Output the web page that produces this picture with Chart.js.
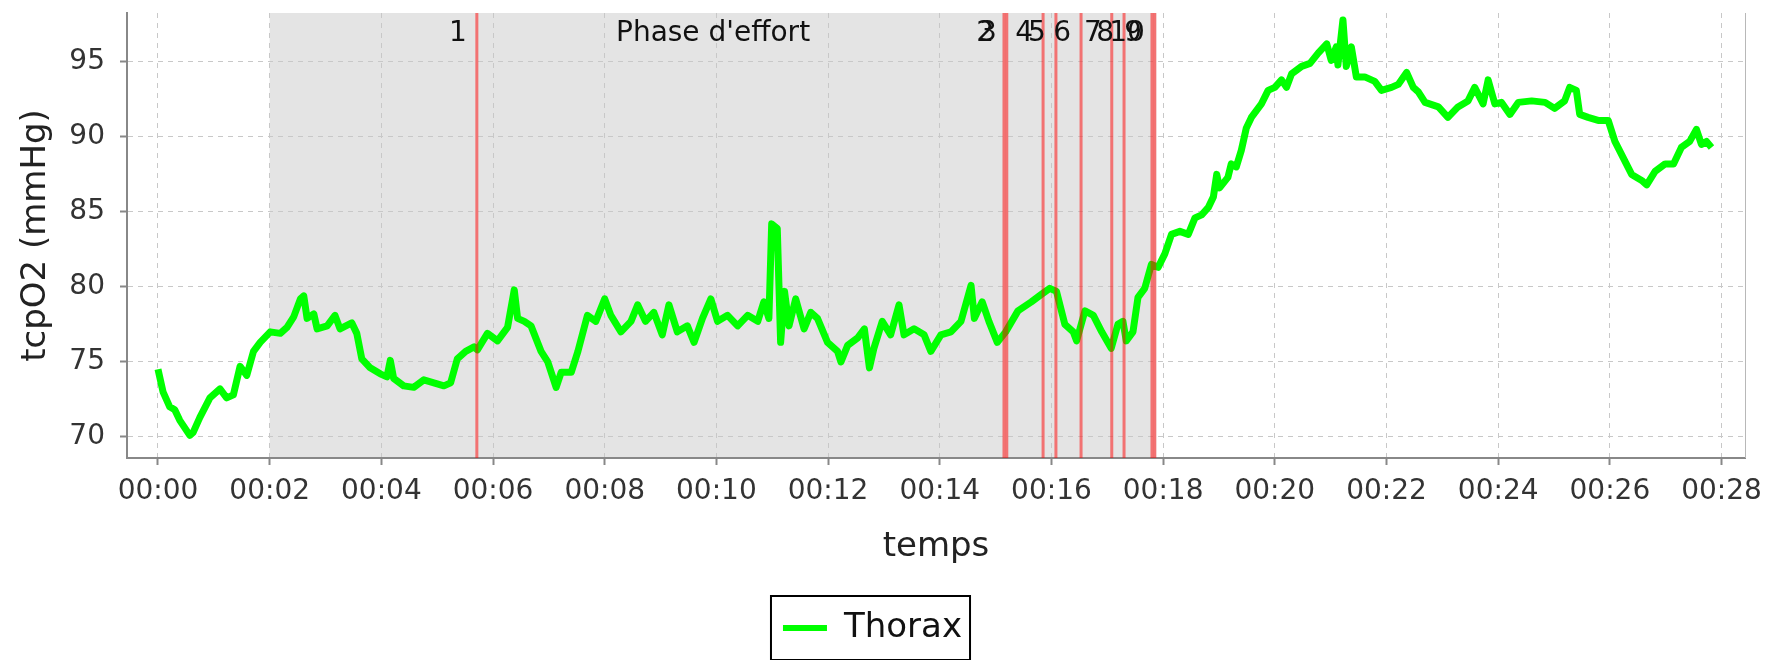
<!DOCTYPE html>
<html><head><meta charset="utf-8">
<script src="https://cdn.jsdelivr.net/npm/chart.js@4/dist/chart.umd.min.js"></script>
<style>html,body{margin:0;padding:0;background:#fff}#wrap{width:1766px;height:660px}</style>
</head><body><div id="wrap"><canvas id="c" width="1766" height="660"></canvas></div>
<script>
// time in minutes
const times = [
0.00,0.09,0.21,0.30,0.39,0.57,0.63,0.75,0.93,1.11,1.23,1.35,1.47,1.59,1.71,1.83,
2.01,2.19,2.31,2.43,2.55,2.61,2.67,2.79,2.85,3.03,3.17,3.26,3.47,3.56,3.65,3.80,3.98,
4.10,4.16,4.22,4.40,4.58,4.76,4.94,5.12,5.24,5.36,5.51,5.66,5.72,5.90,6.08,6.26,6.38,
6.44,6.56,6.68,6.86,6.98,7.13,7.22,7.40,7.52,7.69,7.84,8.00,8.11,8.29,8.47,8.59,8.73,
8.88,9.03,9.15,9.30,9.48,9.60,9.75,9.90,10.02,10.20,10.38,10.56,10.74,10.85,10.94,10.99,
11.09,11.15,11.22,11.30,11.42,11.57,11.69,11.81,11.99,12.17,12.23,12.35,12.53,12.65,12.74,
12.82,12.97,13.12,13.27,13.36,13.54,13.72,13.84,14.02,14.20,14.38,14.56,14.62,14.76,14.88,
15.03,15.18,15.40,15.64,15.82,15.97,16.09,16.24,16.39,16.45,16.60,16.75,16.90,17.07,17.19,
17.28,17.34,17.46,17.55,17.67,17.79,17.91,18.03,18.15,18.30,18.45,18.57,18.69,18.81,18.90,
18.96,19.01,19.16,19.22,19.31,19.40,19.49,19.58,19.76,19.88,20.00,20.12,20.21,20.30,20.48,
20.63,20.78,20.93,21.01,21.10,21.13,21.22,21.28,21.37,21.46,21.61,21.79,21.91,22.09,22.21,
22.36,22.48,22.57,22.69,22.93,23.10,23.28,23.46,23.58,23.73,23.82,23.94,24.06,24.21,24.36,
24.60,24.84,25.01,25.19,25.28,25.40,25.46,25.61,25.79,25.97,26.09,26.24,26.39,26.57,26.66,
26.81,26.99,27.14,27.28,27.43,27.55,27.64,27.73,27.82
];
const thorax = [
74.5,73.0,72.0,71.8,71.1,70.1,70.3,71.3,72.6,73.2,72.6,72.8,74.7,74.1,75.7,76.3,
77.0,76.9,77.3,78.0,79.2,79.4,77.9,78.2,77.2,77.4,78.1,77.2,77.6,76.9,75.2,74.6,74.2,
74.0,75.1,73.9,73.4,73.3,73.8,73.6,73.4,73.6,75.2,75.7,76.0,75.8,76.9,76.4,77.3,79.8,
77.9,77.7,77.4,75.7,75.0,73.3,74.3,74.3,75.7,78.1,77.7,79.2,78.1,77.0,77.7,78.8,77.7,
78.3,76.8,78.8,77.0,77.4,76.3,77.9,79.2,77.7,78.1,77.4,78.1,77.7,79.0,77.9,84.2,
83.9,76.3,79.7,77.4,79.2,77.2,78.3,77.9,76.3,75.7,75.0,76.1,76.6,77.2,74.6,
75.9,77.7,76.8,78.8,76.8,77.2,76.8,75.7,76.8,77.0,77.7,80.1,77.9,79.0,77.7,
76.3,77.0,78.4,79.0,79.5,79.9,79.7,77.5,77.0,76.4,78.4,78.1,77.0,75.9,77.5,
77.7,76.4,77.0,79.3,79.9,81.5,81.3,82.2,83.5,83.7,83.5,84.6,84.8,85.3,86.0,
87.5,86.6,87.3,88.2,88.0,89.1,90.6,91.3,92.2,93.1,93.3,93.8,93.3,94.2,94.7,
94.9,95.6,96.2,95.1,96.0,94.8,97.8,94.7,96.0,94.0,94.0,93.7,93.1,93.3,93.5,
94.3,93.3,93.0,92.3,92.0,91.3,92.0,92.4,93.3,92.2,93.8,92.2,92.3,91.5,92.3,
92.4,92.3,91.9,92.4,93.3,93.1,91.5,91.3,91.1,91.1,89.7,88.6,87.5,87.1,86.8,
87.7,88.2,88.2,89.3,89.7,90.5,89.5,89.7,89.3
];
const xTickValues = [0,2,4,6,8,10,12,14,16,18,20,22,24,26,28];
const xTickLabels = ['00:00','00:02','00:04','00:06','00:08','00:10','00:12','00:14','00:16','00:18','00:20','00:22','00:24','00:26','00:28'];
const yTickValues = [70,75,80,85,90,95];
const markerTimes = [5.71,15.15,15.20,15.85,16.08,16.53,17.08,17.30,17.80,17.85];
const markerLabels = ['1','2','3','4','5','6','7','8','9','10'];
const phaseStart = 2.0;
const phaseEnd = 17.88;
const phaseLabel = "Phase d'effort";
const seriesName = 'Thorax';
const xTitle = 'temps';
const yTitle = 'tcpO2 (mmHg)';

const FONT = 'DejaVu Sans';

const bgPlugin = {
  id: 'phaseBg',
  beforeDraw(chart) {
    const {ctx, chartArea: a, scales: {x}} = chart;
    const x0 = x.getPixelForValue(phaseStart), x1 = x.getPixelForValue(phaseEnd);
    ctx.save();
    ctx.fillStyle = '#e4e4e4';
    ctx.fillRect(x0, a.top, x1 - x0, a.bottom - a.top);
    ctx.restore();
  },
  afterDatasetsDraw(chart) {
    const {ctx, chartArea: a, scales: {x}} = chart;
    ctx.save();
    ctx.strokeStyle = 'rgba(255,0,0,0.5)';
    ctx.lineWidth = 3;
    markerTimes.forEach(t => {
      const px = x.getPixelForValue(t);
      ctx.beginPath(); ctx.moveTo(px, a.top); ctx.lineTo(px, a.bottom); ctx.stroke();
    });
    ctx.fillStyle = '#111';
    ctx.font = '28px "' + FONT + '"';
    ctx.textBaseline = 'middle';
    ctx.textAlign = 'right';
    markerTimes.forEach((t, i) => {
      const px = x.getPixelForValue(t);
      ctx.fillText(markerLabels[i], px - 10, a.top + 21);
    });
    ctx.textAlign = 'center';
    const cx = (x.getPixelForValue(phaseStart) + x.getPixelForValue(phaseEnd)) / 2;
    ctx.fillText(phaseLabel, cx, a.top + 21);
    // right outline
    ctx.strokeStyle = '#b8b8b8';
    ctx.lineWidth = 1;
    ctx.beginPath(); ctx.moveTo(a.right + 0.5, a.top); ctx.lineTo(a.right + 0.5, a.bottom); ctx.stroke();
    ctx.restore();
  },
  afterDraw(chart) {
    const lg = chart.legend;
    if (!lg || !lg.legendHitBoxes || !lg.legendHitBoxes.length) return;
    const hb = lg.legendHitBoxes[0];
    const ctx = chart.ctx;
    ctx.save();
    ctx.strokeStyle = '#000';
    ctx.lineWidth = 2;
    ctx.strokeRect(hb.left - 12, hb.top - 15, hb.width + 20, hb.height + 30);
    ctx.restore();
  }
};

new Chart(document.getElementById('c'), {
  type: 'line',
  data: {
    datasets: [{
      label: seriesName,
      data: times.map((t, i) => ({x: t, y: thorax[i]})),
      borderColor: '#00ff00',
      backgroundColor: '#00ff00',
      borderWidth: 7,
      pointRadius: 0,
      tension: 0,
      borderJoinStyle: 'round'
    }]
  },
  options: {
    responsive: false,
    devicePixelRatio: 1,
    animation: false,
    layout: {padding: {left: 0, right: 21, top: 13, bottom: 5}},
    plugins: {
      tooltip: {enabled: false},
      legend: {
        position: 'bottom',
        labels: {
          font: {family: FONT, size: 34},
          color: '#111',
          boxWidth: 44,
          boxHeight: 6,
          padding: 12,
          generateLabels: (chart) => chart.data.datasets.map((d, i) => ({
            text: d.label, fillStyle: d.borderColor, strokeStyle: d.borderColor,
            lineWidth: 0, hidden: false, datasetIndex: i, fontColor: '#111'
          }))
        }
      }
    },
    scales: {
      x: {
        type: 'linear',
        min: -0.555, max: 28.42,
        afterFit: s => { s.height = 141; s.paddingLeft = 0; s.paddingRight = 0; },
        afterBuildTicks: s => { s.ticks = xTickValues.map(v => ({value: v})); },
        ticks: {
          font: {family: FONT, size: 28}, color: '#333', padding: 10,
          maxRotation: 0, autoSkip: false,
          callback: (v) => xTickLabels[xTickValues.indexOf(v)]
        },
        grid: {color: '#c8c8c8', lineWidth: 1, drawTicks: true,
               tickLength: 7, tickColor: '#888', tickWidth: 2, tickBorderDash: []},
        border: {display: true, color: '#888', width: 2, dash: [5, 5]},
        title: {display: true, text: xTitle, font: {family: FONT, size: 34}, color: '#222',
                padding: {top: 0, bottom: 31}}
      },
      y: {
        type: 'linear',
        min: 68.59, max: 98.26,
        afterFit: s => { s.width = 127; s.paddingTop = 0; s.paddingBottom = 0; },
        afterBuildTicks: s => { s.ticks = yTickValues.map(v => ({value: v})); },
        ticks: {font: {family: FONT, size: 28}, color: '#333', padding: 15},
        grid: {color: '#c8c8c8', lineWidth: 1, drawTicks: true,
               tickLength: 7, tickColor: '#888', tickWidth: 2, tickBorderDash: []},
        border: {display: true, color: '#888', width: 2, dash: [5, 5]},
        title: {display: true, text: yTitle, font: {family: FONT, size: 34}, color: '#222',
                padding: {top: 16, bottom: 0}}
      }
    }
  },
  plugins: [bgPlugin]
});
</script>
</body></html>
